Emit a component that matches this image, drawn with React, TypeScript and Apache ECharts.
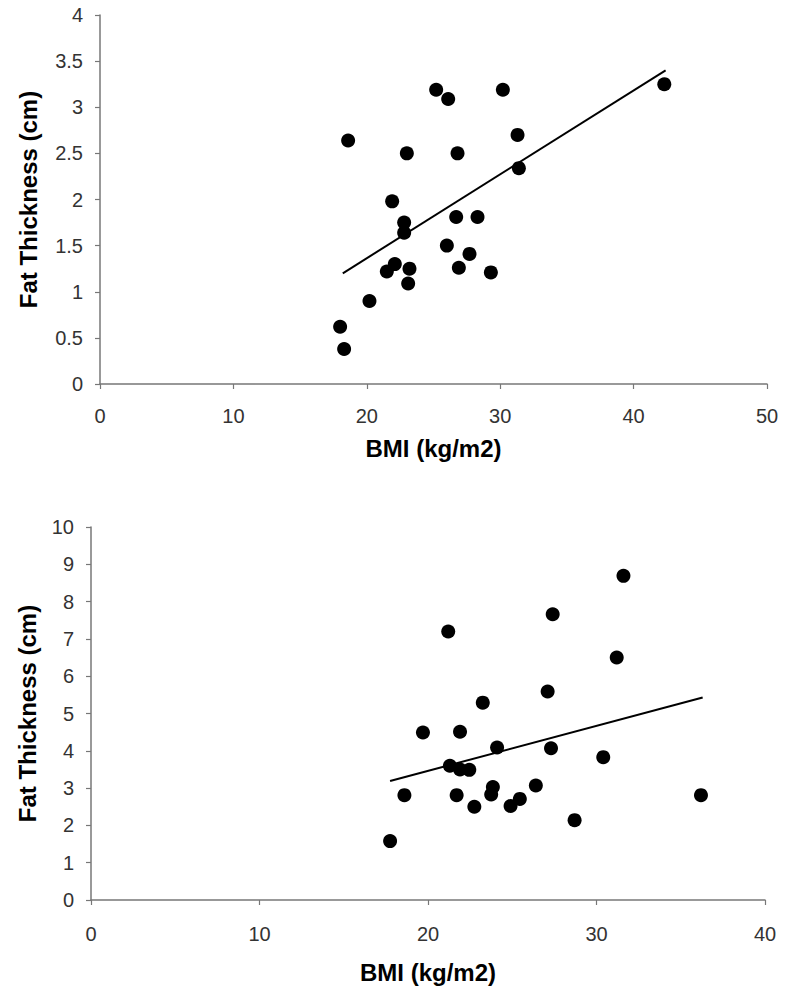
import React, { useEffect, useRef } from "react";
import * as echarts from "echarts";

// Top panel
const topBmi = [18.6, 25.2, 26.1, 30.2, 42.3, 31.3, 23.0, 26.8, 31.4, 21.9, 22.8, 22.8, 26.7, 28.3, 26.0, 27.7, 26.9, 29.3, 22.1, 21.5, 23.2, 23.1, 20.2, 18.0, 18.3];
const topFat = [2.64, 3.19, 3.09, 3.19, 3.25, 2.70, 2.50, 2.50, 2.34, 1.98, 1.75, 1.64, 1.81, 1.81, 1.50, 1.41, 1.26, 1.21, 1.30, 1.22, 1.25, 1.09, 0.90, 0.62, 0.38];
const topTrendX = [18.2, 42.4];
const topTrendY = [1.2, 3.4];

// Bottom panel
const botBmi = [31.6, 27.4, 21.2, 31.2, 27.1, 23.25, 19.7, 21.9, 24.1, 27.3, 30.4, 21.3, 21.9, 22.45, 18.6, 21.7, 23.85, 23.75, 22.75, 24.9, 25.45, 26.4, 28.7, 36.2, 17.75];
const botFat = [8.69, 7.66, 7.2, 6.5, 5.59, 5.29, 4.49, 4.51, 4.09, 4.07, 3.83, 3.6, 3.5, 3.49, 2.81, 2.81, 3.03, 2.83, 2.5, 2.52, 2.71, 3.07, 2.14, 2.81, 1.58];
const botTrendX = [17.75, 36.3];
const botTrendY = [3.19, 5.43];

const xTitle = "BMI (kg/m2)";
const yTitle = "Fat Thickness (cm)";

const FONT = "'Liberation Sans', Arial, sans-serif";

export default function App() {
  const ref = useRef<HTMLDivElement>(null);
  useEffect(() => {
    document.body.style.margin = "0";
    const chart = echarts.init(ref.current!, null, { renderer: "svg" });
    const axisLine = { show: true, lineStyle: { color: "#777", width: 1.5 } };
    const axisTick = { show: true, inside: false, length: 5, lineStyle: { color: "#777", width: 1.2 } };
    const axisLabel = (margin: number) => ({ color: "#333", fontSize: 20, fontFamily: FONT, margin });
    const nameStyle = { color: "#000", fontSize: 24, fontWeight: "bold" as const, fontFamily: FONT };
    const pts = (xs: number[], ys: number[]) => xs.map((x, i) => [x, ys[i]]);
    chart.setOption({
      animation: false,
      backgroundColor: "#fff",
      grid: [
        { left: 100, top: 15, width: 667, height: 369 },
        { left: 91, top: 527, width: 674, height: 373 },
      ],
      xAxis: [
        {
          gridIndex: 0, type: "value", min: 0, max: 50, interval: 10,
          axisLine, axisTick, axisLabel: axisLabel(22), splitLine: { show: false },
          name: xTitle, nameLocation: "middle", nameGap: 52, nameTextStyle: nameStyle,
        },
        {
          gridIndex: 1, type: "value", min: 0, max: 40, interval: 10,
          axisLine, axisTick, axisLabel: axisLabel(24), splitLine: { show: false },
          name: xTitle, nameLocation: "middle", nameGap: 60, nameTextStyle: nameStyle,
        },
      ],
      yAxis: [
        {
          gridIndex: 0, type: "value", min: 0, max: 4, interval: 0.5,
          axisLine, axisTick, axisLabel: axisLabel(17), splitLine: { show: false },
          name: yTitle, nameLocation: "middle", nameGap: 60, nameTextStyle: nameStyle,
        },
        {
          gridIndex: 1, type: "value", min: 0, max: 10, interval: 1,
          axisLine, axisTick, axisLabel: axisLabel(17), splitLine: { show: false },
          name: yTitle, nameLocation: "middle", nameGap: 52, nameTextStyle: nameStyle,
        },
      ],
      series: [
        {
          type: "line", xAxisIndex: 0, yAxisIndex: 0, data: pts(topTrendX, topTrendY),
          showSymbol: false, lineStyle: { color: "#000", width: 2 }, silent: true,
        },
        {
          type: "scatter", xAxisIndex: 0, yAxisIndex: 0, data: pts(topBmi, topFat),
          symbolSize: 14, itemStyle: { color: "#000", opacity: 1 },
        },
        {
          type: "line", xAxisIndex: 1, yAxisIndex: 1, data: pts(botTrendX, botTrendY),
          showSymbol: false, lineStyle: { color: "#000", width: 2 }, silent: true,
        },
        {
          type: "scatter", xAxisIndex: 1, yAxisIndex: 1, data: pts(botBmi, botFat),
          symbolSize: 14, itemStyle: { color: "#000", opacity: 1 },
        },
      ],
    });
    return () => chart.dispose();
  }, []);
  return <div ref={ref} style={{ width: 786, height: 995 }} />;
}
